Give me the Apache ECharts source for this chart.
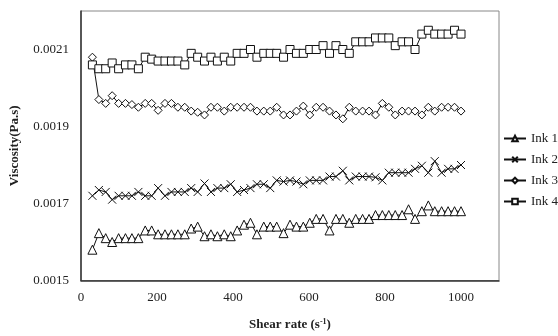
<!DOCTYPE html>
<html>
<head>
<meta charset="utf-8">
<script src="https://cdn.jsdelivr.net/npm/echarts@6/dist/echarts.min.js"></script>
<style>
  html, body { margin: 0; padding: 0; background: #fff; }
  #chart { width: 558px; height: 336px; }
</style>
</head>
<body>
<div id="chart"></div>
<script>
// shear rate (1/s)
const shearRate = [30, 47, 65, 82, 99, 117, 134, 151, 169, 186, 203, 221, 238, 255, 273, 290, 307, 325, 342, 359,
  377, 394, 411, 429, 446, 463, 481, 498, 515, 533, 550, 567, 585, 602, 619, 637, 654, 671, 689, 706,
  723, 741, 758, 775, 793, 810, 827, 845, 862, 879, 897, 914, 931, 949, 966, 983, 1000];

// viscosity (Pa.s)
const ink1 = [0.00158, 0.001623, 0.00161, 0.0016, 0.00161, 0.00161, 0.00161, 0.00161, 0.00163, 0.00163,
  0.00162, 0.00162, 0.00162, 0.00162, 0.00162, 0.001635, 0.00164, 0.001615, 0.00162, 0.001615,
  0.00162, 0.001615, 0.00163, 0.001645, 0.00165, 0.00162, 0.00164, 0.00164, 0.00164, 0.001623,
  0.001645, 0.00164, 0.00164, 0.00165, 0.00166, 0.00166, 0.00163, 0.00166, 0.00166, 0.00165,
  0.00166, 0.00166, 0.00166, 0.00167, 0.00167, 0.00167, 0.00167, 0.00167, 0.001685, 0.00166,
  0.00168, 0.001695, 0.00168, 0.00168, 0.00168, 0.00168, 0.00168];
const ink2 = [0.00172, 0.001735, 0.00173, 0.00171, 0.00172, 0.00172, 0.00172, 0.00173, 0.00172, 0.00172,
  0.00174, 0.00172, 0.00173, 0.00173, 0.00173, 0.00174, 0.00173, 0.001752, 0.00173, 0.00174,
  0.00174, 0.00175, 0.00173, 0.001735, 0.00174, 0.00175, 0.00175, 0.00174, 0.00176, 0.001757,
  0.00176, 0.001757, 0.00175, 0.00176, 0.00176, 0.00176, 0.00177, 0.00177, 0.001785, 0.00176,
  0.00177, 0.00177, 0.00177, 0.001768, 0.00176, 0.00178, 0.00178, 0.00178, 0.00178, 0.00179,
  0.001798, 0.00178, 0.00181, 0.00178, 0.00179, 0.00179, 0.0018];
const ink3 = [0.00208, 0.00197, 0.00196, 0.00198, 0.00196, 0.00196, 0.001957, 0.00195, 0.00196, 0.00196,
  0.001942, 0.00196, 0.00196, 0.00195, 0.00195, 0.00194, 0.001937, 0.00193, 0.00195, 0.00195,
  0.00194, 0.00195, 0.00195, 0.00195, 0.00195, 0.00194, 0.00194, 0.00194, 0.00195, 0.00193,
  0.00193, 0.00194, 0.001953, 0.00193, 0.00195, 0.00195, 0.00194, 0.00193, 0.00192, 0.00195,
  0.00194, 0.00194, 0.00194, 0.00193, 0.00196, 0.00195, 0.00193, 0.00194, 0.00194, 0.00194,
  0.00193, 0.00195, 0.00194, 0.00195, 0.00195, 0.00195, 0.00194];
const ink4 = [0.00206, 0.00205, 0.00205, 0.002065, 0.00205, 0.00206, 0.00206, 0.00205, 0.00208, 0.002075,
  0.00207, 0.00207, 0.00207, 0.00207, 0.00206, 0.00209, 0.00208, 0.00207, 0.00208, 0.00207,
  0.00208, 0.00207, 0.00209, 0.00209, 0.0021, 0.00208, 0.00209, 0.00209, 0.00209, 0.00208,
  0.0021, 0.00209, 0.00209, 0.0021, 0.0021, 0.00211, 0.00209, 0.00211, 0.0021, 0.00209,
  0.00212, 0.00212, 0.00212, 0.00213, 0.00213, 0.00213, 0.00211, 0.00212, 0.00212, 0.0021,
  0.00214, 0.00215, 0.00214, 0.00214, 0.00214, 0.00215, 0.00214];

const inks = [
  { name: "Ink 1", values: ink1, symbol: "triangle", size: 9 },
  { name: "Ink 2", values: ink2, symbol: "path://M0,0L10,10M10,0L0,10", size: 8 },
  { name: "Ink 3", values: ink3, symbol: "diamond", size: 8 },
  { name: "Ink 4", values: ink4, symbol: "rect", size: 8 },
];

const font = "'Liberation Serif', 'DejaVu Serif', serif";
const chart = echarts.init(document.getElementById("chart"));

chart.setOption({
  animation: false,
  backgroundColor: "#fff",
  grid: {
    left: 76, top: 11, right: 59, bottom: 45,
    show: true, borderColor: "#888", borderWidth: 1,
  },
  legend: {
    orient: "vertical",
    left: 503,
    top: 132,
    padding: 0,
    itemWidth: 22,
    itemHeight: 7,
    itemGap: 8,
    textStyle: { fontFamily: font, fontSize: 13, color: "#222" },
    data: inks.map((d) => d.name),
  },
  xAxis: {
    type: "value",
    min: 0, max: 1100, interval: 200,
    name: "{a|Shear rate (s}{s|-1}{a|)}",
    nameLocation: "middle",
    nameGap: 37,
    nameTextStyle: {
      rich: {
        a: { fontFamily: font, fontSize: 13, fontWeight: "bold", color: "#222" },
        s: { fontFamily: font, fontSize: 8, fontWeight: "bold", color: "#222", verticalAlign: "top", padding: [0, 0, 6, 0] },
      },
    },
    axisLine: { lineStyle: { color: "#333", width: 1.5 } },
    axisTick: { show: false },
    splitLine: { show: false },
    axisLabel: {
      showMaxLabel: false, margin: 11, fontFamily: font, fontSize: 13, color: "#222",
      formatter: (v) => String(v),
    },
  },
  yAxis: {
    type: "value",
    min: 0.0015, max: 0.0022, interval: 0.0001,
    name: "Viscosity(Pa.s)",
    nameLocation: "middle",
    nameGap: 60,
    nameTextStyle: { fontFamily: font, fontSize: 13, fontWeight: "bold", color: "#222" },
    axisLine: { show: true, lineStyle: { color: "#333", width: 1.5 } },
    axisTick: { show: false },
    splitLine: { show: false },
    axisLabel: {
      margin: 12, fontFamily: font, fontSize: 13, color: "#222",
      formatter: (v) => (Math.round(v * 1e4) % 2 === 1 ? v.toFixed(4) : ""),
    },
  },
  series: inks.map((d) => ({
    name: d.name,
    type: "line",
    data: d.values.map((v, i) => [shearRate[i], v]),
    symbol: d.symbol,
    symbolSize: d.size,
    showAllSymbol: true,
    lineStyle: { color: "#111", width: 1 },
    itemStyle: { color: "#fff", borderColor: "#111", borderWidth: 1 },
  })),
});
</script>
</body>
</html>
